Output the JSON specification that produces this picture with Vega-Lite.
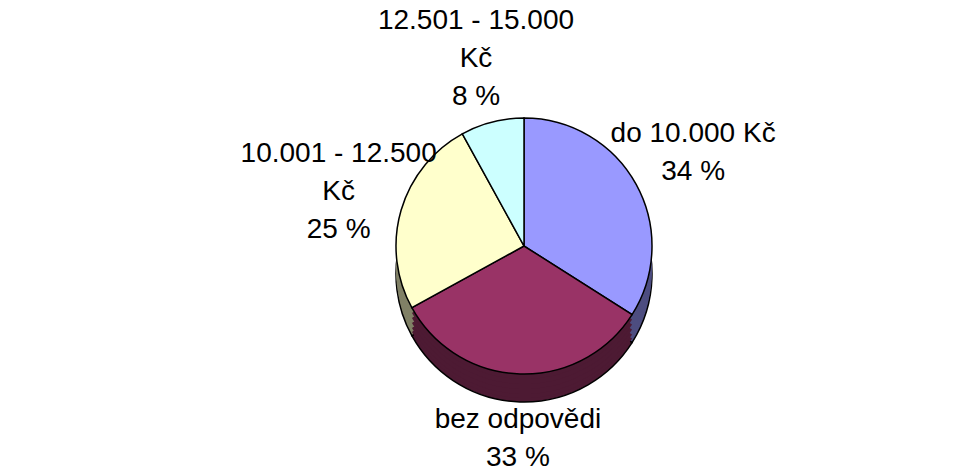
{
  "$schema": "https://vega.github.io/schema/vega-lite/v6.json",
  "width": 955,
  "height": 475,
  "autosize": {"type": "fit", "contains": "padding"},
  "padding": {"left": 93, "right": 0, "top": 15, "bottom": 0},
  "background": "white",
  "config": {"view": {"stroke": null}},
  "data": {
    "values": [
      {"kategorie": "do 10.000 Kč", "podil": 34, "poradi": 1, "popisek": "do 10.000 Kč\n34 %"},
      {"kategorie": "bez odpovědi", "podil": 33, "poradi": 2, "popisek": "bez odpovědi\n33 %"},
      {"kategorie": "10.001 - 12.500 Kč", "podil": 25, "poradi": 3, "popisek": "10.001 - 12.500\nKč\n25 %"},
      {"kategorie": "12.501 - 15.000 Kč", "podil": 8, "poradi": 4, "popisek": "12.501 - 15.000\nKč\n8 %"}
    ]
  },
  "encoding": {
    "theta": {"field": "podil", "type": "quantitative", "stack": true},
    "order": {"field": "poradi", "type": "quantitative"}
  },
  "layer": [
    {
      "mark": {"type": "arc", "outerRadius": 128, "yOffset": 28, "stroke": "black", "strokeWidth": 1.5},
      "encoding": {
        "color": {
          "field": "kategorie", "type": "nominal", "legend": null,
          "scale": {
            "domain": ["do 10.000 Kč", "bez odpovědi", "10.001 - 12.500 Kč", "12.501 - 15.000 Kč"],
            "range": ["#4D4D80", "#4D1A33", "#808066", "#668080"]
          }
        }
      }
    },
    {
      "mark": {"type": "arc", "outerRadius": 128, "yOffset": 24},
      "encoding": {"color": {"field": "kategorie", "type": "nominal", "legend": null}}
    },
    {
      "mark": {"type": "arc", "outerRadius": 128, "yOffset": 20},
      "encoding": {"color": {"field": "kategorie", "type": "nominal", "legend": null}}
    },
    {
      "mark": {"type": "arc", "outerRadius": 128, "yOffset": 15},
      "encoding": {"color": {"field": "kategorie", "type": "nominal", "legend": null}}
    },
    {
      "mark": {"type": "arc", "outerRadius": 128, "yOffset": 10},
      "encoding": {"color": {"field": "kategorie", "type": "nominal", "legend": null}}
    },
    {
      "mark": {"type": "arc", "outerRadius": 128, "yOffset": 5},
      "encoding": {"color": {"field": "kategorie", "type": "nominal", "legend": null}}
    },
    {
      "mark": {"type": "arc", "outerRadius": 128, "stroke": "black", "strokeWidth": 1.5},
      "encoding": {
        "fill": {
          "field": "kategorie", "type": "nominal", "legend": null,
          "scale": {
            "domain": ["do 10.000 Kč", "bez odpovědi", "10.001 - 12.500 Kč", "12.501 - 15.000 Kč"],
            "range": ["#9999FF", "#993366", "#FFFFCC", "#CCFFFF"]
          }
        }
      }
    },
    {
      "mark": {
        "type": "text", "radius": 193, "font": "Liberation Sans", "fontSize": 28,
        "lineBreak": "\n", "lineHeight": 38, "color": "black", "align": "center", "baseline": "middle",
        "dy": {"expr": "-19 * (length(split(datum.popisek, '\\n')) - 1)"}
      },
      "encoding": {
        "text": {"field": "popisek", "type": "nominal"}
      }
    }
  ]
}
